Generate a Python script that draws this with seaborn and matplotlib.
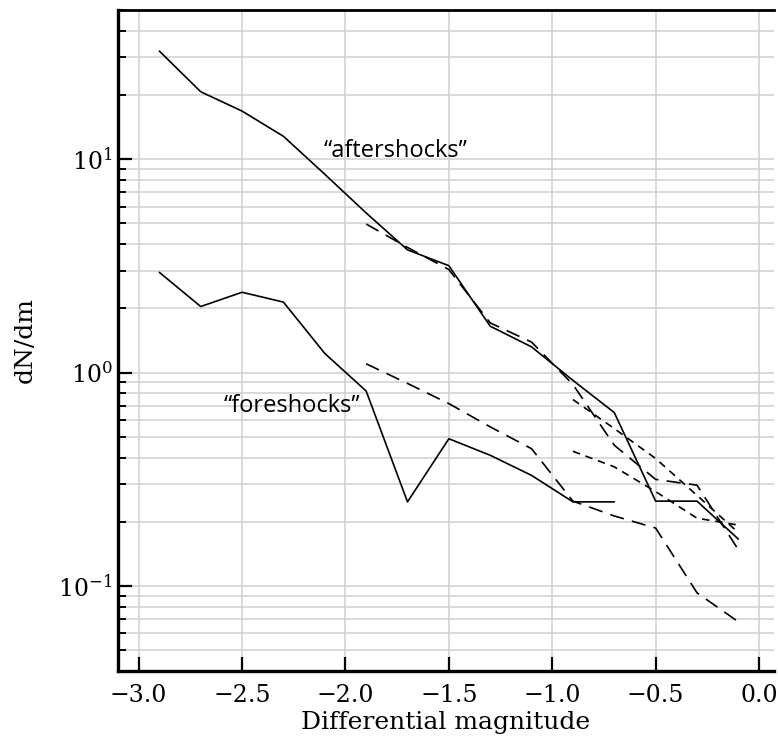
import numpy as np
import pandas as pd
import seaborn as sns
import matplotlib.pyplot as plt

# magnitude bins (differential magnitude)
m_after = [-2.9, -2.7, -2.5, -2.3, -2.1, -1.9, -1.7, -1.5, -1.3, -1.1, -0.9, -0.7, -0.5, -0.3, -0.1]
m_fore = [-2.9, -2.7, -2.5, -2.3, -2.1, -1.9, -1.7, -1.5, -1.3, -1.1, -0.9, -0.7]
m_fit = [-1.9, -1.7, -1.5, -1.3, -1.1, -0.9, -0.7, -0.5, -0.3, -0.1]
m_tail = [-0.9, -0.7, -0.5, -0.3, -0.1]

# dN/dm values
aftershocks = [32.1, 20.7, 16.8, 12.8, 8.5, 5.6, 3.76, 3.17, 1.65, 1.32, 0.92, 0.65, 0.25, 0.25, 0.166]
foreshocks = [2.95, 2.04, 2.38, 2.14, 1.23, 0.82, 0.248, 0.49, 0.41, 0.33, 0.248, 0.248]
after_model = [4.97, 3.86, 3.04, 1.71, 1.39, 0.88, 0.457, 0.316, 0.297, 0.148]
fore_model = [1.10, 0.89, 0.716, 0.557, 0.44, 0.25, 0.213, 0.187, 0.093, 0.068]
tail_a = [0.748, 0.547, 0.396, 0.266, 0.178]
tail_b = [0.428, 0.362, 0.277, 0.208, 0.193]

series = {
    'aftershocks': (m_after, aftershocks),
    'foreshocks': (m_fore, foreshocks),
    'after_model': (m_fit, after_model),
    'fore_model': (m_fit, fore_model),
    'tail_a': (m_tail, tail_a),
    'tail_b': (m_tail, tail_b),
}
frames = []
for name, (xs, ys) in series.items():
    frames.append(pd.DataFrame({'m': xs, 'dNdm': ys, 'series': name}))
df = pd.concat(frames, ignore_index=True)

line_dashes = {
    'aftershocks': '',
    'foreshocks': '',
    'after_model': (8.5, 5.0),
    'fore_model': (8.5, 5.0),
    'tail_a': (4.5, 3.5),
    'tail_b': (4.5, 3.5),
}

sns.set_theme(style='ticks')
plt.rcParams['font.family'] = ['DejaVu Serif']
plt.rcParams['mathtext.fontset'] = 'dejavuserif'

fig = plt.figure(figsize=(7.78, 7.41), dpi=100)
ax = fig.add_axes([118 / 778, 70 / 741, 655.5 / 778, 661 / 741])

sns.lineplot(data=df, x='m', y='dNdm', style='series', dashes=line_dashes,
             units='series', estimator=None, color='black', linewidth=1.2,
             legend=False, ax=ax)

ax.set_yscale('log')
ax.set_xlim(-3.1, 0.07)
ax.set_ylim(0.04, 50)
ax.set_xticks([-3.0, -2.5, -2.0, -1.5, -1.0, -0.5, 0.0])
ax.set_xticklabels(['\u22123.0', '\u22122.5', '\u22122.0', '\u22121.5', '\u22121.0', '\u22120.5', '0.0'])

ax.grid(True, which='major', axis='x', color='#cfcfcf', linewidth=1.1)
ax.grid(True, which='both', axis='y', color='#cfcfcf', linewidth=1.1)
ax.set_axisbelow(True)

ax.tick_params(axis='both', which='major', direction='in', length=10, width=1.6,
               labelsize=17, color='black', labelcolor='black')
ax.tick_params(axis='x', which='major', pad=9)
ax.tick_params(axis='y', which='major', pad=4)
ax.tick_params(axis='y', which='minor', direction='in', length=6, width=1.4, color='black')
ax.tick_params(axis='x', which='minor', bottom=False)

ax.spines['right'].set_visible(False)
ax.spines['left'].set_linewidth(2.4)
ax.spines['bottom'].set_linewidth(2.4)
ax.spines['top'].set_linewidth(2.0)
for s in ['left', 'bottom', 'top']:
    ax.spines[s].set_color('black')

ax.set_xlabel('Differential magnitude', fontsize=18, labelpad=3, color='black')
ax.set_ylabel('dN/dm', fontsize=18, labelpad=15, color='black')

ax.text(-1.756, 10.9, '\u201caftershocks\u201d', fontsize=17, family=['Open Sans', 'DejaVu Sans'],
        ha='center', va='center', color='black')
ax.text(-2.258, 0.70, '\u201cforeshocks\u201d', fontsize=17, family=['Open Sans', 'DejaVu Sans'],
        ha='center', va='center', color='black')

fig.savefig('out.png', dpi=100)
